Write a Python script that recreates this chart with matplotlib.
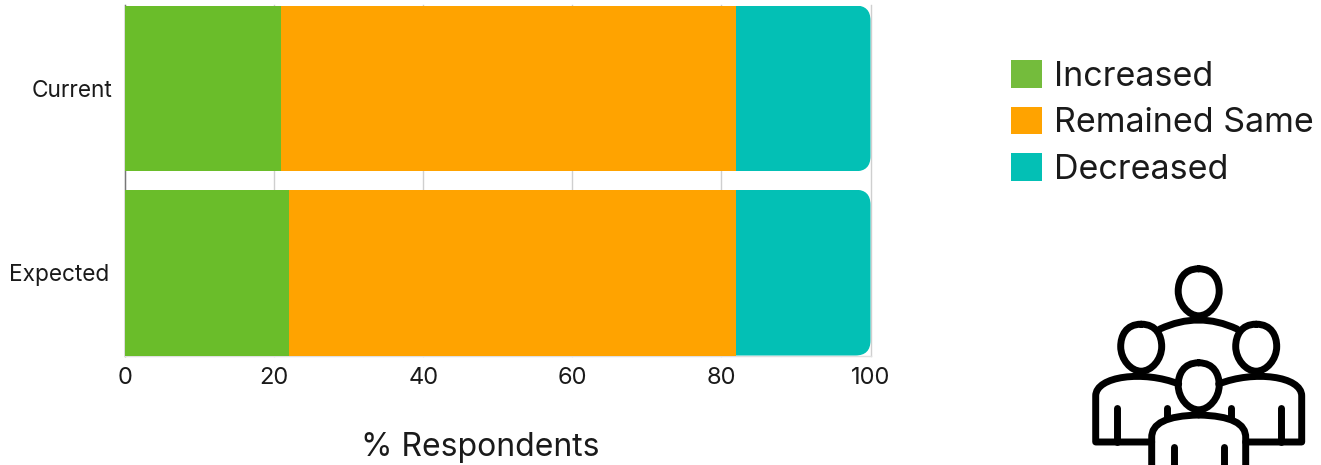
import matplotlib
matplotlib.use("Agg")
import matplotlib.pyplot as plt
from matplotlib.patches import FancyBboxPatch, Patch, PathPatch
from matplotlib.path import Path

categories = ["Current", "Expected"]
series_names = ["Increased", "Remained Same", "Decreased"]
increased = [20.9, 22.0]
remained = [61.0, 60.0]
decreased = [18.1, 18.0]
x_ticks = [0, 20, 40, 60, 80, 100]

BAR_COLORS = ["#6ABD2A", "#FFA300", "#03C0B5"]
LEGEND_COLORS = ["#74BC3C", "#FFA300", "#03C0B5"]
TEXT = "#1a1a1a"
W, H = 1321, 465

plt.rcParams["font.family"] = ["Inter", "DejaVu Sans"]

fig = plt.figure(figsize=(W / 100, H / 100), dpi=100)

# plot area in pixels: x 125-870.5, y 5.5-355.5
ax = fig.add_axes([125 / W, 1 - 355.5 / H, 745.5 / W, 350 / H])

left = [0.0, 0.0]
bars = []
for vals, color in zip([increased, remained, decreased], BAR_COLORS):
    bars.append(ax.barh(categories, vals, left=left, height=0.9, color=color, zorder=3,
                        edgecolor="none"))
    left = [a + b for a, b in zip(left, vals)]

ax.set_xlim(0, 100)
ax.set_ylim(1.45, -0.45)
ax.set_xticks(x_ticks)
ax.grid(axis="x", color="#cfcfcf", linewidth=1, zorder=0)
for gl in ax.get_xgridlines():
    gl.set_clip_on(False)
ax.tick_params(axis="x", length=0, pad=8, labelsize=17, labelcolor=TEXT)
ax.tick_params(axis="y", length=0, pad=9.4, labelsize=16.3, labelcolor=TEXT)
ax.yaxis.get_major_ticks()[1].set_pad(11.5)

for side in ["top", "right"]:
    ax.spines[side].set_visible(False)
ax.spines["left"].set_color("#777777")
ax.spines["left"].set_linewidth(1)
ax.spines["bottom"].set_color("#e0e0e0")
ax.spines["bottom"].set_linewidth(1)

# round the right end of each stacked bar
fig.canvas.draw()
for rect in bars[2]:
    bb = rect.get_window_extent()
    clip = FancyBboxPatch((bb.x0 - 40, bb.y0), bb.width + 40, bb.height,
                          boxstyle="round,pad=0,rounding_size=15",
                          transform=None, facecolor="none", edgecolor="none")
    rect.set_clip_path(clip)

handles = [Patch(facecolor=c, edgecolor="none") for c in LEGEND_COLORS]
fig.legend(handles, series_names, loc="upper left", bbox_to_anchor=(1011 / W, 1 - 60 / H),
           frameon=False, fontsize=24.5, labelcolor=TEXT, borderpad=0, borderaxespad=0,
           handlelength=0.92, handleheight=0.88, handletextpad=0.34, labelspacing=0.41)

fig.text(480 / W, 1 - 456 / H, "% Respondents", fontsize=23, color=TEXT,
         ha="center", va="baseline")

# people icon on a full-figure overlay in pixel coordinates
icon = fig.add_axes([0, 0, 1, 1], zorder=5)
icon.set_xlim(0, W)
icon.set_ylim(H, 0)
icon.axis("off")
LW = 5


def stroke(verts, codes):
    icon.add_patch(PathPatch(Path(verts, codes), fill=False, edgecolor="black",
                             linewidth=LW, capstyle="round", joinstyle="round"))


def line(*pts):
    codes = [Path.MOVETO] + [Path.LINETO] * (len(pts) - 1)
    stroke(list(pts), codes)


def head(cx, cy):
    # egg outline, wider above the middle
    rx, ry = 20.5, 23.5
    verts = [(cx, cy - ry),
             (cx + rx * 0.75, cy - ry), (cx + rx, cy - ry * 0.5), (cx + rx, cy - ry * 0.05),
             (cx + rx, cy + ry * 0.5), (cx + rx * 0.5, cy + ry), (cx, cy + ry),
             (cx - rx * 0.5, cy + ry), (cx - rx, cy + ry * 0.5), (cx - rx, cy - ry * 0.05),
             (cx - rx, cy - ry * 0.5), (cx - rx * 0.75, cy - ry), (cx, cy - ry)]
    codes = [Path.MOVETO] + [Path.CURVE4] * 12
    stroke(verts, codes)


CX = 1198.7
for cx, cy in [(CX, 292.3), (CX - 57.5, 347.7), (CX + 57.5, 347.7), (CX, 386.3)]:
    head(cx, cy)

C3 = Path.CURVE3
C4 = Path.CURVE4
M = Path.MOVETO
L = Path.LINETO

# shoulders of the back figure
stroke([(1160, 329), (CX, 311), (1237, 329)], [M, C3, C3])

for sgn in [-1, 1]:
    # side figures: shoulder, outer arm, lower hem
    stroke([(CX + sgn * 20, 384), (CX + sgn * 55, 370), (CX + sgn * 103, 376),
            (CX + sgn * 103, 396), (CX + sgn * 103, 442), (CX + sgn * 47, 442)],
           [M, C4, C4, C4, L, L])
    line((CX + sgn * 82, 408), (CX + sgn * 82, 442))
    line((CX + sgn * 32, 408), (CX + sgn * 32, 418))
    # front figure
    stroke([(CX, 415), (CX + sgn * 48, 416), (CX + sgn * 47, 438),
            (CX + sgn * 47, 470)], [M, C3, C3, L])
    line((CX + sgn * 25, 447), (CX + sgn * 25, 470))

fig.savefig("out.png", dpi=100)
